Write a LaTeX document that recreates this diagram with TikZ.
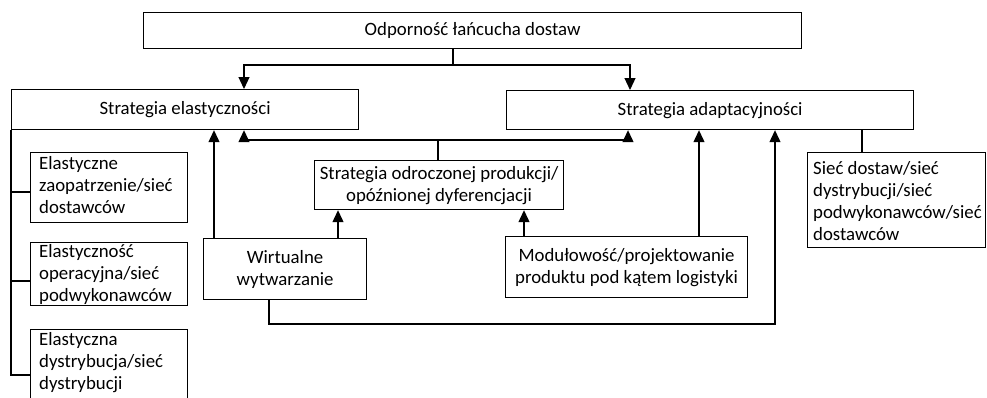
\documentclass[tikz,border=0pt]{standalone}
\usepackage{fontspec}
\setmainfont{Carlito}
\usetikzlibrary{arrows.meta}
\begin{document}
\begin{tikzpicture}[x=1pt,y=-1pt,
  every node/.style={font=\fontsize{18.8}{22}\selectfont},
  box/.style={draw, line width=1.2pt, inner sep=0pt, align=center, anchor=north west},
  lbl/.style={anchor=base west, align=left, inner sep=0pt},
  link/.style={line width=1.2pt},
  arr/.style={link, -{Triangle[length=12pt,width=11pt]}}]
\useasboundingbox (0,0) rectangle (987,397);
\clip (0,0) rectangle (987,397);

% main boxes
\node[box, minimum width=658pt, minimum height=36pt] (top) at (143,12) {Odporność łańcucha dostaw};
\node[box, minimum width=347pt, minimum height=40pt] (L) at (11,89) {Strategia elastyczności};
\node[box, minimum width=407pt, minimum height=39pt] (R) at (506,90) {Strategia adaptacyjności};
\node[box, minimum width=249pt, minimum height=49pt] (O) at (314,160) {Strategia odroczonej produkcji/\\opóźnionej dyferencjacji};
\node[box, minimum width=163pt, minimum height=61pt] (W) at (203,238) {Wirtualne\\wytwarzanie};
\node[box, minimum width=242pt, minimum height=61pt] (M) at (505,236) {Modułowość/projektowanie\\produktu pod kątem logistyki};

% boxes with left-aligned text (anchored at the baseline of the last line)
\node[box, minimum width=178pt, minimum height=95pt] (S) at (807,152) {};
\node[box, minimum width=157pt, minimum height=70pt] (E1) at (30,152) {};
\node[box, minimum width=157pt, minimum height=63pt] (E2) at (30,242) {};
\node[box, minimum width=157pt, minimum height=90pt] (E3) at (30,329) {};
\node[lbl] (E1t) at (39,213) {Elastyczne\\zaopatrzenie/sieć\\dostawców};
\node[lbl] (E2t) at (39,301) {Elastyczność\\operacyjna/sieć\\podwykonawców};
\node[lbl] (E3t) at (39,389) {Elastyczna\\dystrybucja/sieć\\dystrybucji};
\node[lbl] (St) at (813,240) {Sieć dostaw/sieć\\dystrybucji/sieć\\podwykonawców/sieć\\dostawców};

% junctions and connector columns
\coordinate (j1) at (453,65);
\coordinate (j2) at (438,140);
\coordinate (j3) at (269,324);
\coordinate (xa) at (244,0);
\coordinate (xb) at (630,0);
\coordinate (xc) at (628,0);
\coordinate (xd) at (214,0);
\coordinate (xe) at (338,0);
\coordinate (xf) at (524,0);
\coordinate (xg) at (699,0);
\coordinate (xh) at (775,0);
\coordinate (xi) at (862,0);
\coordinate (k1) at (11,192);
\coordinate (k2) at (11,281);
\coordinate (k3) at (11,375);

% connectors
\draw[link] (top.south -| j1) -- (j1);
\draw[arr] (j1) -| (L.north -| xa);
\draw[arr] (j1) -| (R.north -| xb);
\draw[link] (O.north -| j2) -- (j2);
\draw[arr] (j2) -| (L.south -| xa);
\draw[arr] (j2) -| (R.south -| xc);
\draw[arr] (W.north -| xd) -- (L.south -| xd);
\draw[arr] (W.north -| xe) -- (O.south -| xe);
\draw[arr] (W.south -| j3) -- (j3) -| (R.south -| xh);
\draw[arr] (M.north -| xf) -- (O.south -| xf);
\draw[arr] (M.north -| xg) -- (R.south -| xg);
\draw[link] (R.south -| xi) -- (S.north -| xi);

% left tree
\draw[link] (L.south west) -- (k3) -- (E3.west |- k3);
\draw[link] (k1) -- (E1.west |- k1);
\draw[link] (k2) -- (E2.west |- k2);
\end{tikzpicture}
\end{document}
